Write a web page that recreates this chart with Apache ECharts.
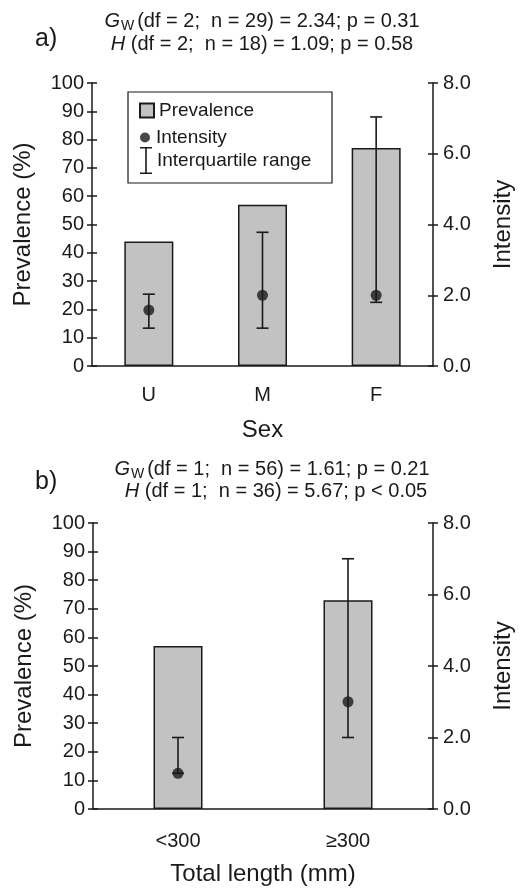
<!DOCTYPE html>
<html>
<head>
<meta charset="utf-8">
<script src="https://cdn.jsdelivr.net/npm/echarts@6/dist/echarts.min.js"></script>
<style>
  html, body { margin: 0; padding: 0; background: #fff; }
  #chart { width: 523px; height: 889px; }
</style>
</head>
<body>
<div id="chart"></div>
<script>
// panel a: by sex
const sexCats = ["U", "M", "F"];
const sexPrevalence = [44, 57, 77];
const sexIntensity = [1.58, 2.0, 2.0];
const sexQ1 = [1.07, 1.07, 1.8];
const sexQ3 = [2.03, 3.78, 7.04];

// panel b: by total length
const lenCats = ["<300", "\u2265300"];
const lenPrevalence = [57, 73];
const lenIntensity = [1.0, 3.0];
const lenQ1 = [1.0, 2.0];
const lenQ3 = [2.0, 7.0];

const ink = "#1a1a1a";
const font = "Liberation Sans, Arial, sans-serif";

const statRich = {
  it: { fontStyle: "italic", fontWeight: "normal", fontSize: 20, lineHeight: 22, color: ink, fontFamily: font },
  sub: { fontWeight: "normal", fontSize: 14, lineHeight: 22, padding: [10, 3, 0, 1], color: ink, fontFamily: font },
  n: { fontWeight: "normal", fontSize: 20, lineHeight: 22, color: ink, fontFamily: font }
};

function statTitle(text, x, y) {
  return {
    text: text,
    left: x,
    top: y,
    padding: 0,
    textAlign: "center",
    textVerticalAlign: "top",
    textStyle: { fontWeight: "normal", rich: statRich }
  };
}

function panelTitle(text, y) {
  return {
    text: text,
    left: 35,
    top: y,
    padding: 0,
    textAlign: "left",
    textVerticalAlign: "top",
    textStyle: { fontSize: 25, fontWeight: "normal", color: ink, fontFamily: font }
  };
}

function yAxes(gridIndex) {
  const line = { color: ink, width: 1.5 };
  const base = { type: "value", gridIndex: gridIndex, splitLine: { show: false } };
  return [
    Object.assign({}, base, {
      position: "left", min: 0, max: 100, interval: 10,
      name: "Prevalence (%)", nameLocation: "middle", nameGap: 57,
      nameTextStyle: { fontSize: 24, color: ink, fontFamily: font },
      axisLine: { show: true, lineStyle: line },
      axisTick: { show: true, length: 5, lineStyle: line },
      axisLabel: { fontSize: 20, margin: 8, color: ink, fontFamily: font }
    }),
    Object.assign({}, base, {
      position: "right", min: 0, max: 8, interval: 2,
      name: "Intensity", nameLocation: "middle", nameGap: 58,
      nameTextStyle: { fontSize: 24, color: ink, fontFamily: font },
      axisLine: { show: true, lineStyle: line },
      axisTick: { show: true, length: 5, lineStyle: line },
      axisLabel: { fontSize: 20, margin: 10, color: ink, fontFamily: font,
        formatter: (v) => v.toFixed(1) }
    }),
    // inner halves of the crossing ticks
    Object.assign({}, base, {
      position: "left", min: 0, max: 100, interval: 10,
      axisLine: { show: false },
      axisTick: { show: true, inside: true, length: 5, lineStyle: line },
      axisLabel: { show: false }
    }),
    Object.assign({}, base, {
      position: "right", min: 0, max: 8, interval: 2,
      axisLine: { show: false },
      axisTick: { show: true, inside: true, length: 5, lineStyle: line },
      axisLabel: { show: false }
    })
  ];
}

function xAxis(gridIndex, cats, name, margin, gap) {
  return {
    type: "category", gridIndex: gridIndex, data: cats,
    name: name, nameLocation: "middle", nameGap: gap,
    nameTextStyle: { fontSize: 24, color: ink, fontFamily: font },
    axisLine: { lineStyle: { color: ink, width: 1.5 } },
    axisTick: { show: false },
    axisLabel: { fontSize: 20, margin: margin, color: ink, fontFamily: font }
  };
}

function renderRange(params, api) {
  const x = api.value(0);
  const lo = api.coord([x, api.value(1)]);
  const hi = api.coord([x, api.value(2)]);
  const w = 6;
  const st = { stroke: ink, lineWidth: 1.6 };
  return {
    type: "group",
    children: [
      { type: "line", shape: { x1: hi[0], y1: hi[1], x2: lo[0], y2: lo[1] }, style: st },
      { type: "line", shape: { x1: hi[0] - w, y1: hi[1], x2: hi[0] + w, y2: hi[1] }, style: st },
      { type: "line", shape: { x1: lo[0] - w, y1: lo[1], x2: lo[0] + w, y2: lo[1] }, style: st }
    ]
  };
}

function panelSeries(gridIndex, prev, intens, q1, q3) {
  const yi = gridIndex * 4;
  return [
    {
      name: "Prevalence", type: "bar", xAxisIndex: gridIndex, yAxisIndex: yi,
      data: prev, barWidth: 49, z: 2,
      itemStyle: { color: "#c2c2c2", borderColor: ink, borderWidth: 1.5 }
    },
    {
      name: "Interquartile range", type: "custom", xAxisIndex: gridIndex, yAxisIndex: yi + 1,
      data: q1.map((lo, i) => [i, lo, q3[i]]),
      encode: { x: 0, y: [1, 2] }, z: 4,
      itemStyle: { color: ink },
      renderItem: renderRange
    },
    {
      name: "Intensity", type: "scatter", xAxisIndex: gridIndex, yAxisIndex: yi + 1,
      data: intens, symbol: "circle", symbolSize: 11, z: 5,
      itemStyle: { color: ink }
    }
  ];
}

const legendText = { fontSize: 19, color: ink, fontFamily: font };
const ibeam = "path://M0,0 H12 V1.6 H6.8 V25.4 H12 V27 H0 V25.4 H5.2 V1.6 H0 Z";

const chart = echarts.init(document.getElementById("chart"), null, { renderer: "canvas" });

chart.setOption({
  animation: false,
  backgroundColor: "#fff",
  title: [
    panelTitle("a)", 27),
    statTitle("{it|G}{sub|W}{n|(df = 2;  n = 29) = 2.34; p = 0.31}", 262, 10),
    statTitle("{it|H}{n| (df = 2;  n = 18) = 1.09; p = 0.58}", 262, 33),
    panelTitle("b)", 470),
    statTitle("{it|G}{sub|W}{n|(df = 1;  n = 56) = 1.61; p = 0.21}", 272, 458),
    statTitle("{it|H}{n| (df = 1;  n = 36) = 5.67; p < 0.05}", 276, 480)
  ],
  graphic: [
    {
      type: "rect", z: 1,
      shape: { x: 128, y: 92, width: 204, height: 91 },
      style: { fill: "#fff", stroke: ink, lineWidth: 1.2 }
    }
  ],
  legend: [
    {
      left: 139, top: 101, padding: 0, itemWidth: 14, itemHeight: 14,
      selectedMode: false, textStyle: legendText, z: 5,
      data: [{ name: "Prevalence", icon: "rect" }]
    },
    {
      left: 140, top: 128, padding: 0, itemWidth: 12, itemHeight: 10,
      selectedMode: false, textStyle: legendText, z: 5,
      data: [{ name: "Intensity", icon: "circle" }]
    },
    {
      left: 140, top: 147, padding: 0, itemWidth: 12, itemHeight: 27,
      selectedMode: false, textStyle: legendText, z: 5,
      data: [{ name: "Interquartile range", icon: ibeam, itemStyle: { color: ink } }]
    }
  ],
  grid: [
    { left: 92, right: 81, top: 83, height: 283 },
    { left: 93, right: 81, top: 523, height: 286 }
  ],
  xAxis: [
    xAxis(0, sexCats, "Sex", 19, 52),
    xAxis(1, lenCats, "Total length (mm)", 22, 53)
  ],
  yAxis: yAxes(0).concat(yAxes(1)),
  series: panelSeries(0, sexPrevalence, sexIntensity, sexQ1, sexQ3)
    .concat(panelSeries(1, lenPrevalence, lenIntensity, lenQ1, lenQ3))
});
</script>
</body>
</html>
